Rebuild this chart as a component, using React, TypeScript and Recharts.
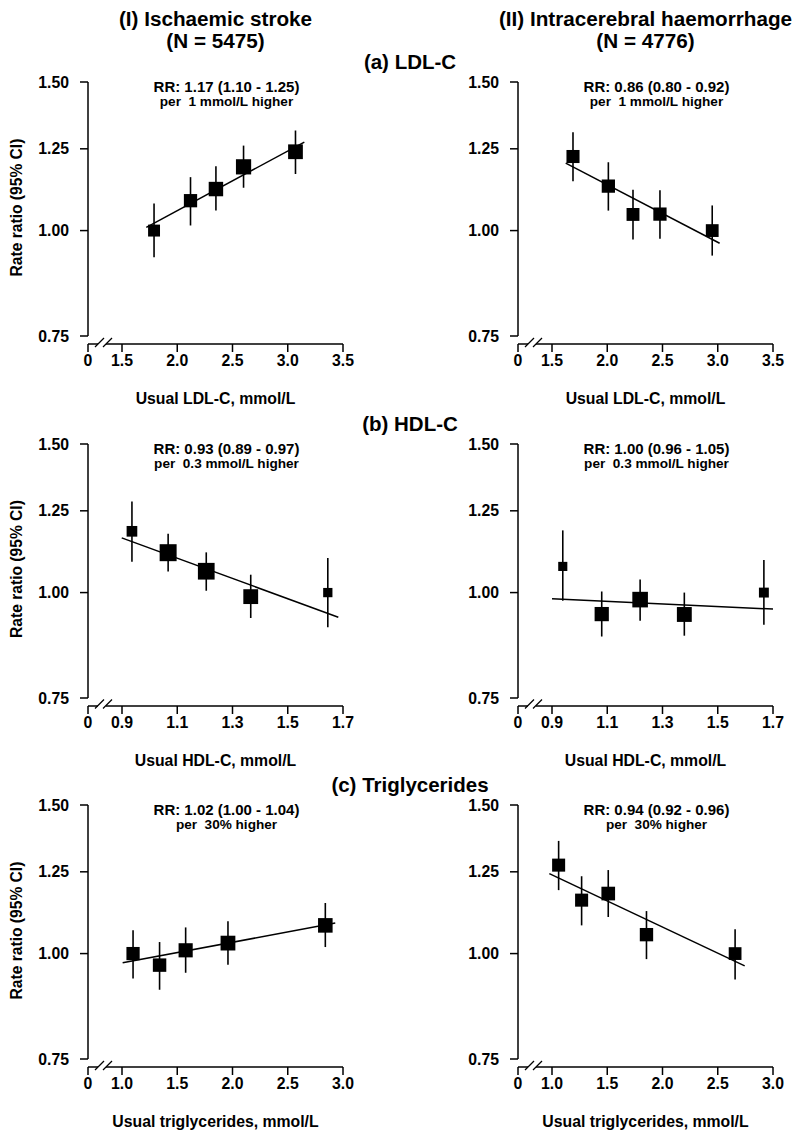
import {
  ComposedChart,
  XAxis,
  YAxis,
  Line,
  Scatter,
  ErrorBar,
  ReferenceLine,
} from 'recharts';

const FONT = '"Liberation Sans", Arial, Helvetica, sans-serif';

// y axis: rate ratio on a log scale
const rrTicks = [0.75, 1.0, 1.25, 1.5];

// x axis ticks (the "0" tick sits before the axis break)
const ldlTicks = [1.5, 2.0, 2.5, 3.0, 3.5];
const hdlTicks = [0.9, 1.1, 1.3, 1.5, 1.7];
const tgTicks = [1.0, 1.5, 2.0, 2.5, 3.0];

// (a) LDL-C, ischaemic stroke
const ldlIsX = [1.79, 2.12, 2.35, 2.6, 3.07];
const ldlIsRR = [1.0, 1.085, 1.12, 1.19, 1.24];
const ldlIsLo = [0.93, 1.014, 1.056, 1.124, 1.167];
const ldlIsHi = [1.077, 1.157, 1.192, 1.261, 1.314];
const ldlIsFitX = [1.72, 3.15];
const ldlIsFitY = [1.009, 1.273];

// (a) LDL-C, intracerebral haemorrhage
const ldlIchX = [1.69, 2.01, 2.233, 2.477, 2.95];
const ldlIchRR = [1.224, 1.129, 1.045, 1.046, 1.0];
const ldlIchLo = [1.144, 1.056, 0.976, 0.978, 0.934];
const ldlIchHi = [1.308, 1.205, 1.118, 1.116, 1.071];
const ldlIchFitX = [1.624, 3.017];
const ldlIchFitY = [1.202, 0.966];

// (b) HDL-C, ischaemic stroke
const hdlIsX = [0.936, 1.067, 1.205, 1.366, 1.645];
const hdlIsRR = [1.182, 1.115, 1.06, 0.989, 1.0];
const hdlIsLo = [1.088, 1.059, 1.005, 0.933, 0.91];
const hdlIsHi = [1.282, 1.174, 1.116, 1.05, 1.099];
const hdlIsFitX = [0.899, 1.683];
const hdlIsFitY = [1.161, 0.935];

// (b) HDL-C, intracerebral haemorrhage
const hdlIchX = [0.939, 1.08, 1.219, 1.379, 1.667];
const hdlIchRR = [1.074, 0.943, 0.981, 0.942, 1.0];
const hdlIchLo = [0.978, 0.887, 0.926, 0.889, 0.916];
const hdlIchHi = [1.185, 1.003, 1.036, 1.0, 1.093];
const hdlIchFitX = [0.9, 1.7];
const hdlIchFitY = [0.983, 0.956];

// (c) Triglycerides, ischaemic stroke
const tgIsX = [1.1, 1.34, 1.576, 1.959, 2.84];
const tgIsRR = [1.0, 0.969, 1.009, 1.029, 1.08];
const tgIsLo = [0.934, 0.906, 0.949, 0.97, 1.018];
const tgIsHi = [1.066, 1.032, 1.074, 1.092, 1.148];
const tgIsFitX = [1.006, 2.93];
const tgIsFitY = [0.975, 1.087];

// (c) Triglycerides, intracerebral haemorrhage
const tgIchX = [1.06, 1.268, 1.509, 1.855, 2.657];
const tgIchRR = [1.273, 1.157, 1.178, 1.053, 1.0];
const tgIchLo = [1.189, 1.08, 1.105, 0.985, 0.932];
const tgIchHi = [1.36, 1.235, 1.256, 1.123, 1.069];
const tgIchFitX = [0.976, 2.744];
const tgIchFitY = [1.244, 0.967];

const columnTitles = [
  ['(I) Ischaemic stroke', '(N = 5475)'],
  ['(II) Intracerebral haemorrhage', '(N = 4776)'],
];
const rowTitles = ['(a) LDL-C', '(b) HDL-C', '(c) Triglycerides'];
const xTitles = ['Usual LDL-C, mmol/L', 'Usual HDL-C, mmol/L', 'Usual triglycerides, mmol/L'];
const rrLabels = [
  ['RR: 1.17 (1.10 - 1.25)', 'RR: 0.86 (0.80 - 0.92)'],
  ['RR: 0.93 (0.89 - 0.97)', 'RR: 1.00 (0.96 - 1.05)'],
  ['RR: 1.02 (1.00 - 1.04)', 'RR: 0.94 (0.92 - 0.96)'],
];
const perLabels = ['per  1 mmol/L higher', 'per  0.3 mmol/L higher', 'per  30% higher'];

// layout
const COL_LEFT = [88, 518];
const ROW_TOP = [82, 443.5, 805];
const PLOT_W = 255;
const TICK_SPAN = 254; // px between 1.50 and 0.75
const GAP = 8; // x axis sits below the 0.75 tick
const PLOT_H = TICK_SPAN + GAP;
const AXIS_W = 88;
const M_TOP = 20;
const M_RIGHT = 30;
const X_AXIS_H = 40;
const Y_MIN = 0.75 * Math.pow(0.5, GAP / TICK_SPAN);

const tickStyle = { fill: '#000', fontSize: 15.8, fontWeight: 700, fontFamily: FONT };

function Square(props: any) {
  const { cx, cy, payload } = props;
  if (cx == null || cy == null) return <g />;
  const s = payload.size;
  return <rect x={cx - s / 2} y={cy - s / 2} width={s} height={s} fill="#000" />;
}

interface PanelProps {
  xs: number[];
  rr: number[];
  lo: number[];
  hi: number[];
  fitX: number[];
  fitY: number[];
  ticks: number[];
  col: number;
  row: number;
}

function Panel({ xs, rr, lo, hi, fitX, fitY, ticks, col, row }: PanelProps) {
  const step = ticks[1] - ticks[0];
  const xMin = ticks[0] - (step * 34) / 55.25;
  const xMax = ticks[ticks.length - 1];
  // box side ~ inverse of the CI width (log scale)
  const points = xs.map((x, i) => ({
    x,
    y: rr[i],
    err: [rr[i] - lo[i], hi[i] - rr[i]],
    size: 1.75 / Math.log(hi[i] / lo[i]),
  }));
  const fit = fitX.map((x, i) => ({ x, y: fitY[i] }));

  return (
    <div
      style={{
        position: 'absolute',
        left: COL_LEFT[col] - AXIS_W,
        top: ROW_TOP[row] - M_TOP,
      }}
    >
      <ComposedChart
        width={AXIS_W + PLOT_W + M_RIGHT}
        height={M_TOP + PLOT_H + X_AXIS_H}
        margin={{ top: M_TOP, right: M_RIGHT, bottom: 0, left: 0 }}
      >
        <XAxis
          type="number"
          dataKey="x"
          domain={[xMin, xMax]}
          ticks={[xMin, ...ticks]}
          interval={0}
          allowDataOverflow
          height={X_AXIS_H}
          tickSize={8}
          tickMargin={3}
          tickFormatter={(v: number) => (v === xMin ? '0' : v.toFixed(1))}
          tick={tickStyle}
          axisLine={{ stroke: '#000', strokeWidth: 1.5 }}
          tickLine={{ stroke: '#000', strokeWidth: 1.5 }}
        />
        <YAxis
          type="number"
          dataKey="y"
          scale="log"
          domain={[Y_MIN, 1.5]}
          ticks={rrTicks}
          interval={0}
          allowDataOverflow
          width={AXIS_W}
          axisLine={false}
          tickSize={8}
          tickMargin={11}
          tickFormatter={(v: number) => v.toFixed(2)}
          tick={tickStyle}
          tickLine={{ stroke: '#000', strokeWidth: 1.5 }}
        />
        <ReferenceLine
          segment={[
            { x: xMin, y: 0.75 },
            { x: xMin, y: 1.5 },
          ]}
          stroke="#000"
          strokeWidth={1.5}
          ifOverflow="visible"
        />
        <Line
          data={fit}
          dataKey="y"
          type="linear"
          stroke="#000"
          strokeWidth={1.5}
          dot={false}
          isAnimationActive={false}
        />
        <Scatter data={points} dataKey="y" shape={Square} isAnimationActive={false}>
          <ErrorBar dataKey="err" direction="y" width={0} stroke="#000" strokeWidth={1.6} />
        </Scatter>
      </ComposedChart>
    </div>
  );
}

function Overlay() {
  const txt = { fontFamily: FONT, fontWeight: 700, fill: '#000' } as const;
  return (
    <svg
      width={800}
      height={1140}
      style={{ position: 'absolute', left: 0, top: 0, pointerEvents: 'none' }}
    >
      {columnTitles.map((t, c) => {
        const cx = COL_LEFT[c] + PLOT_W / 2;
        return (
          <g key={`ct${c}`}>
            <text x={cx} y={25.5} textAnchor="middle" fontSize={20.7} {...txt}>{t[0]}</text>
            <text x={cx} y={48} textAnchor="middle" fontSize={20.7} {...txt}>{t[1]}</text>
          </g>
        );
      })}
      {ROW_TOP.map((top, r) => {
        const axisY = top + PLOT_H;
        return (
          <g key={`row${r}`}>
            <text x={410} y={top - 13} textAnchor="middle" fontSize={20.5} {...txt}>{rowTitles[r]}</text>
            <text
              x={22}
              y={top + 125.5}
              textAnchor="middle"
              fontSize={15.6}
              transform={`rotate(-90, 22, ${top + 125.5})`}
              {...txt}
            >
              Rate ratio (95% CI)
            </text>
            {COL_LEFT.map((left, c) => {
              const cx = left + PLOT_W / 2;
              return (
                <g key={`p${r}${c}`}>
                  <text x={cx + 11} y={top + 10} textAnchor="middle" fontSize={15} {...txt}>
                    {rrLabels[r][c]}
                  </text>
                  <text
                    x={cx + 11}
                    y={top + 24}
                    textAnchor="middle"
                    fontSize={13.6}
                    style={{ whiteSpace: 'pre' }}
                    {...txt}
                  >
                    {perLabels[r]}
                  </text>
                  <text x={cx} y={axisY + 60} textAnchor="middle" fontSize={15.8} {...txt}>
                    {xTitles[r]}
                  </text>
                  {/* axis break */}
                  <rect x={left + 10} y={axisY - 1.5} width={8} height={3} fill="#fff" />
                  <line x1={left + 7} y1={axisY + 3} x2={left + 16} y2={axisY - 6} stroke="#000" strokeWidth={1.3} />
                  <line x1={left + 15} y1={axisY + 3} x2={left + 24} y2={axisY - 6} stroke="#000" strokeWidth={1.3} />
                </g>
              );
            })}
          </g>
        );
      })}
    </svg>
  );
}

export default function App() {
  return (
    <div style={{ position: 'absolute', left: 0, top: 0, width: 800, height: 1140, background: '#fff' }}>
      <Panel xs={ldlIsX} rr={ldlIsRR} lo={ldlIsLo} hi={ldlIsHi} fitX={ldlIsFitX} fitY={ldlIsFitY} ticks={ldlTicks} col={0} row={0} />
      <Panel xs={ldlIchX} rr={ldlIchRR} lo={ldlIchLo} hi={ldlIchHi} fitX={ldlIchFitX} fitY={ldlIchFitY} ticks={ldlTicks} col={1} row={0} />
      <Panel xs={hdlIsX} rr={hdlIsRR} lo={hdlIsLo} hi={hdlIsHi} fitX={hdlIsFitX} fitY={hdlIsFitY} ticks={hdlTicks} col={0} row={1} />
      <Panel xs={hdlIchX} rr={hdlIchRR} lo={hdlIchLo} hi={hdlIchHi} fitX={hdlIchFitX} fitY={hdlIchFitY} ticks={hdlTicks} col={1} row={1} />
      <Panel xs={tgIsX} rr={tgIsRR} lo={tgIsLo} hi={tgIsHi} fitX={tgIsFitX} fitY={tgIsFitY} ticks={tgTicks} col={0} row={2} />
      <Panel xs={tgIchX} rr={tgIchRR} lo={tgIchLo} hi={tgIchHi} fitX={tgIchFitX} fitY={tgIchFitY} ticks={tgTicks} col={1} row={2} />
      <Overlay />
    </div>
  );
}
